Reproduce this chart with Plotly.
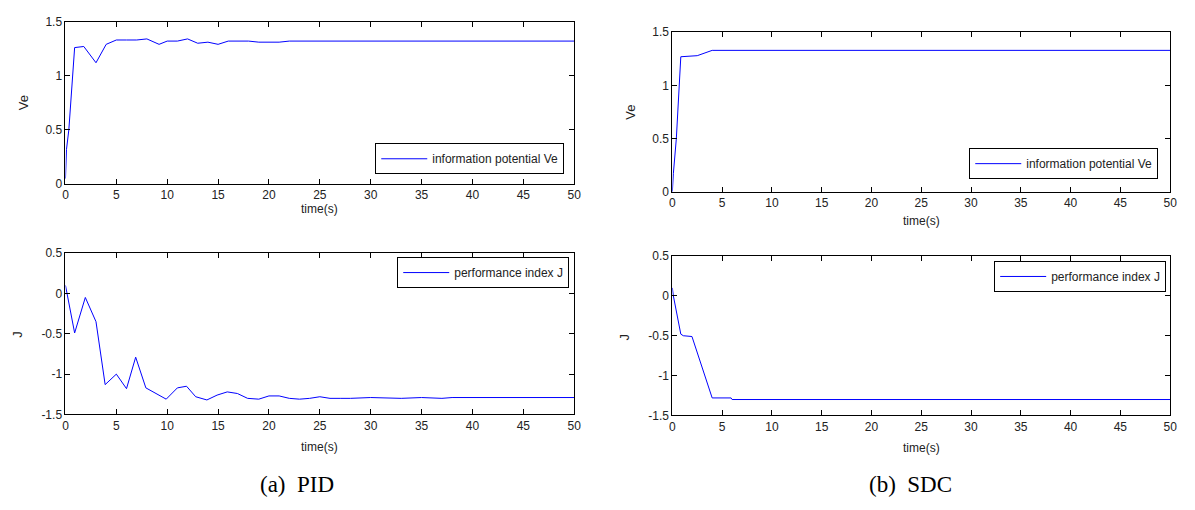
import plotly.graph_objects as go

# ---- data ----
t_pid = [0, 0.1, 0.33, 0.58, 0.75, 0.9, 1.8, 3, 4, 5, 6, 7, 8, 9.2, 10, 11, 12, 13, 14, 15, 16, 17, 18, 19, 20, 21, 22, 23, 25, 30, 40, 50]
ve_pid = [0.05, 0.32, 0.5, 0.86, 1.0, 1.26, 1.27, 1.12, 1.29, 1.33, 1.33, 1.33, 1.34, 1.29, 1.32, 1.32, 1.34, 1.30, 1.31, 1.29, 1.32, 1.32, 1.32, 1.31, 1.31, 1.31, 1.32, 1.32, 1.32, 1.32, 1.32, 1.32]

tj_pid = [0, 0.9, 1.95, 3, 3.9, 5, 6, 6.9, 7.9, 9.9, 11, 11.9, 12.8, 13.9, 14.9, 15.9, 16.9, 17.9, 19, 20, 21, 22, 23, 24, 25, 26, 27, 28, 30, 32, 33, 35, 37, 38, 40, 45, 50]
j_pid = [0.1, -0.49, -0.05, -0.35, -1.13, -1.0, -1.18, -0.79, -1.17, -1.31, -1.17, -1.15, -1.28, -1.32, -1.26, -1.22, -1.24, -1.30, -1.31, -1.27, -1.27, -1.30, -1.31, -1.30, -1.28, -1.30, -1.30, -1.30, -1.29, -1.30, -1.30, -1.29, -1.30, -1.29, -1.29, -1.29, -1.29]

t_sdc = [0, 0.1, 0.4, 0.7, 0.85, 2.5, 3.2, 4, 50]
ve_sdc = [0.0, 0.17, 0.5, 0.95, 1.27, 1.28, 1.30, 1.33, 1.33]

tj_sdc = [0, 0.1, 0.85, 1.1, 1.97, 4, 5.9, 6, 50]
j_sdc = [0.1, 0.0, -0.48, -0.5, -0.51, -1.28, -1.28, -1.30, -1.30]

x_ticks = list(range(0, 51, 5))
ve_ticks = [0, 0.5, 1, 1.5]
ve_ticklabels = ["0", "0.5", "1", "1.5"]
j_ticks = [-1.5, -1, -0.5, 0, 0.5]
j_ticklabels = ["-1.5", "-1", "-0.5", "0", "0.5"]

W, H = 1195, 510
FONT = "Liberation Sans, Arial, sans-serif"
SERIF = "Liberation Serif, DejaVu Serif, serif"
BLUE = "#0000ff"

fig = go.Figure()

panels = [
    dict(t=t_pid, y=ve_pid, name="information potential Ve", xp=(63, 576), yp=(15, 182),
         yt=ve_ticks, ytl=ve_ticklabels, yr=[0, 1.5], title="Ve",
         leg=(566, 172), tlab=(319, 208), ylab=(20, 98)),
    dict(t=tj_pid, y=j_pid, name="performance index J", xp=(63, 576), yp=(253, 419),
         yt=j_ticks, ytl=j_ticklabels, yr=[-1.5, 0.5], title="J",
         leg=(571, 289), tlab=(319, 452), ylab=(15, 336)),
    dict(t=t_sdc, y=ve_sdc, name="information potential Ve", xp=(675, 1177), yp=(26, 190),
         yt=ve_ticks, ytl=ve_ticklabels, yr=[0, 1.5], title="Ve",
         leg=(1165, 177), tlab=(926, 220), ylab=(632, 108)),
    dict(t=tj_sdc, y=j_sdc, name="performance index J", xp=(675, 1177), yp=(256, 420),
         yt=j_ticks, ytl=j_ticklabels, yr=[-1.5, 0.5], title="J",
         leg=(1173, 293), tlab=(926, 453), ylab=(627, 339)),
]

layout = dict(
    width=W, height=H, margin=dict(l=0, r=0, t=0, b=0),
    paper_bgcolor="white", plot_bgcolor="white",
    font=dict(family=FONT, size=12, color="#222"),
    showlegend=True,
)
annotations = []

for i, p in enumerate(panels, start=1):
    xa = "x" if i == 1 else f"x{i}"
    ya = "y" if i == 1 else f"y{i}"
    lg = "legend" if i == 1 else f"legend{i}"
    fig.add_trace(go.Scatter(
        x=p["t"], y=p["y"], mode="lines", name=p["name"],
        line=dict(color=BLUE, width=1), xaxis=xa, yaxis=ya, legend=lg,
    ))
    x0, x1 = p["xp"]
    y0, y1 = p["yp"]
    axis_common = dict(
        showline=True, linecolor="black", linewidth=1, mirror="ticks",
        ticks="inside", ticklen=5, tickcolor="black", tickwidth=1,
        showgrid=False, zeroline=False,
        tickfont=dict(family=FONT, size=12, color="#222"),
    )
    layout["xaxis" if i == 1 else f"xaxis{i}"] = dict(
        domain=[x0 / W, x1 / W], range=[0, 50], tickvals=x_ticks,
        anchor=ya, **axis_common,
    )
    layout["yaxis" if i == 1 else f"yaxis{i}"] = dict(
        domain=[1 - y1 / H, 1 - y0 / H], range=p["yr"], tickvals=p["yt"],
        ticktext=p["ytl"], anchor=xa, **axis_common,
    )
    lx, ly = p["leg"]
    layout[lg] = dict(
        x=lx / W, y=1 - ly / H, xanchor="right", yanchor="bottom",
        xref="paper", yref="paper",
        bgcolor="white", bordercolor="black", borderwidth=1,
        font=dict(family=FONT, size=12, color="#222"),
        itemwidth=46, tracegroupgap=0,
    )
    tx, ty = p["tlab"]
    annotations.append(dict(
        text="time(s)", x=tx / W, y=1 - ty / H, xref="paper", yref="paper",
        showarrow=False, xanchor="center", yanchor="middle",
        font=dict(family=FONT, size=12, color="#222"),
    ))
    vx, vy = p["ylab"]
    annotations.append(dict(
        text=p["title"], x=vx / W, y=1 - vy / H, xref="paper", yref="paper",
        showarrow=False, xanchor="center", yanchor="middle", textangle=-90,
        font=dict(family=FONT, size=13, color="#222"),
    ))

for txt, cx in [("(a)  PID", 296), ("(b)  SDC", 915)]:
    annotations.append(dict(
        text=txt, x=cx / W, y=1 - 491 / H, xref="paper", yref="paper",
        showarrow=False, xanchor="center", yanchor="middle",
        font=dict(family=SERIF, size=23, color="black"),
    ))

layout["annotations"] = annotations
fig.update_layout(**layout)
fig.write_html("out.html")
